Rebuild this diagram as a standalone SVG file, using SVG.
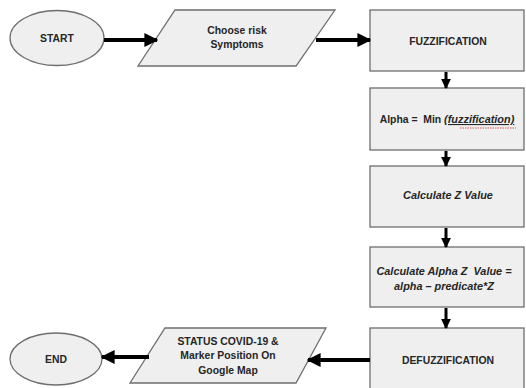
<svg xmlns="http://www.w3.org/2000/svg" width="526" height="388" viewBox="0 0 526 388">
<defs>
<style>
.shape{fill:#efefef;stroke:#6e6e6e;stroke-width:1.3}
.t{font-family:"Liberation Sans",Arial,sans-serif;font-weight:bold;font-size:10.4px;fill:#262626;text-anchor:middle;white-space:pre}
.i{font-style:italic;font-size:10.9px}
.c{stroke:#000;stroke-width:4;fill:none}
.cv{stroke:#000;stroke-width:3;fill:none}
</style>
<marker id="ah" viewBox="0 0 10 10" refX="9" refY="5" markerWidth="3.5" markerHeight="3.5" orient="auto" markerUnits="strokeWidth">
<path d="M0,0 L10,5 L0,10 z" fill="#000"/>
</marker>
<marker id="av" viewBox="0 0 10 10" refX="9" refY="5" markerWidth="3.3" markerHeight="3.9" orient="auto" markerUnits="strokeWidth">
<path d="M0,0 L10,5 L0,10 z" fill="#000"/>
</marker>
</defs>
<rect width="526" height="388" fill="#fff"/>
<g id="start"><ellipse class="shape" cx="57" cy="38" rx="47" ry="27.5"/><text class="t" x="57" y="42">START</text></g>
<g id="choose"><polygon class="shape" points="175,10 335,10 296,66 138,66"/><text class="t" x="237" y="34">Choose risk</text><text class="t" x="237" y="48">Symptoms</text></g>
<g id="fuzz"><rect class="shape" x="370" y="10" width="154" height="61"/><text class="t" x="448" y="45">FUZZIFICATION</text></g>
<g id="alpha"><rect class="shape" x="370" y="88" width="154" height="62"/><text class="t" x="447" y="123" xml:space="preserve">Alpha =  Min <tspan class="i" text-decoration="underline">(fuzzification)</tspan></text><line x1="460" y1="128" x2="516" y2="128" stroke="#d33" stroke-width="0.8" stroke-dasharray="1.5,1"/></g>
<g id="calcz"><rect class="shape" x="370" y="166" width="154" height="61"/><text class="t i" x="448" y="199">Calculate Z Value</text></g>
<g id="calcaz"><rect class="shape" x="370" y="247" width="154" height="60"/><text class="t i" x="444" y="275" xml:space="preserve">Calculate Alpha Z  Value =</text><text class="t i" x="444" y="290">alpha – predicate*Z</text></g>
<g id="defuzz"><rect class="shape" x="370" y="328" width="154" height="62"/><text class="t" x="448" y="364">DEFUZZIFICATION</text></g>
<g id="status"><polygon class="shape" points="165,328 326,328 296,383 130,383"/><text class="t" x="228" y="345">STATUS COVID-19 &amp;</text><text class="t" x="228" y="359">Marker Position On</text><text class="t" x="228" y="374">Google Map</text></g>
<g id="end"><ellipse class="shape" cx="56" cy="359" rx="46" ry="26"/><text class="t" x="56" y="363">END</text></g>
<g id="connectors">
<line class="c" x1="104" y1="40" x2="157" y2="40" marker-end="url(#ah)"/>
<line class="c" x1="316" y1="40" x2="370" y2="40" marker-end="url(#ah)"/>
<line class="cv" x1="446" y1="72" x2="446" y2="88" marker-end="url(#av)"/>
<line class="cv" x1="446" y1="151" x2="446" y2="166" marker-end="url(#av)"/>
<line class="cv" x1="446" y1="228" x2="446" y2="247" marker-end="url(#av)"/>
<line class="cv" x1="446" y1="308" x2="446" y2="328" marker-end="url(#av)"/>
<line class="c" x1="370" y1="360" x2="308" y2="360" marker-end="url(#ah)"/>
<line class="c" x1="149" y1="357" x2="102" y2="357" marker-end="url(#ah)"/>
</g>
</svg>
